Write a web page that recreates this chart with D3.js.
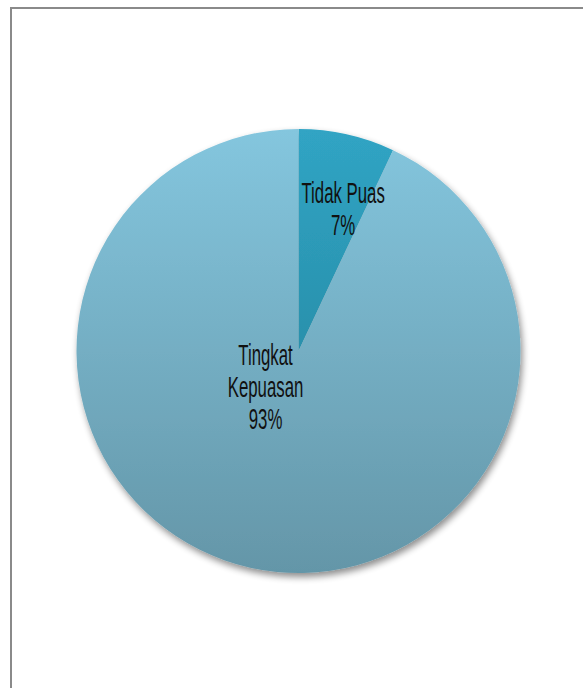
<!DOCTYPE html>
<html>
<head>
<meta charset="utf-8">
<script src="https://cdn.jsdelivr.net/npm/d3@7"></script>
<style>
  html, body { margin: 0; padding: 0; background: #fff; }
  svg { display: block; }
</style>
</head>
<body>
<svg id="chart" width="583" height="688"></svg>
<script>
// Survey result: satisfaction share
const categories = ["Tidak Puas", "Tingkat Kepuasan"];
const values = [7, 93];
const labelLines = [["Tidak Puas"], ["Tingkat", "Kepuasan"]];

const cx = 298.5, cy = 351, R = 222;

// slice colours (top -> bottom of the pie)
const sliceTop = ["#30a4c4", "#84c6de"];
const sliceBottom = ["#237d94", "#6496a8"];

// label placement: fraction of radius along the slice's mid-angle, plus a nudge
const labelRadius = [0.66, 0.2];
const labelNudge = [[12.7, -0.3], [-23.3, -8.3]];
const lineHeight = 32;

const svg = d3.select("#chart");
const defs = svg.append("defs");

// outer frame
svg.append("rect")
  .attr("x", 11).attr("y", 8)
  .attr("width", 600).attr("height", 720)
  .attr("fill", "none")
  .attr("stroke", "#8a8a8a")
  .attr("stroke-width", 2);

// soft shadow under the pie
const shadow = defs.append("filter").attr("id", "pieShadow")
  .attr("x", "-10%").attr("y", "-10%").attr("width", "125%").attr("height", "125%");
shadow.append("feGaussianBlur").attr("in", "SourceAlpha").attr("stdDeviation", 3.5).attr("result", "blur");
shadow.append("feOffset").attr("in", "blur").attr("dx", 2).attr("dy", 4).attr("result", "off");
shadow.append("feComponentTransfer").attr("in", "off").attr("result", "soft")
  .append("feFuncA").attr("type", "linear").attr("slope", 0.45);
const merge = shadow.append("feMerge");
merge.append("feMergeNode").attr("in", "soft");
merge.append("feMergeNode").attr("in", "SourceGraphic");

// vertical gradients spanning the whole pie (in the pie group's own frame)
categories.forEach((c, i) => {
  const g = defs.append("linearGradient")
    .attr("id", "grad" + i)
    .attr("gradientUnits", "userSpaceOnUse")
    .attr("x1", 0).attr("y1", -R)
    .attr("x2", 0).attr("y2", R);
  g.append("stop").attr("offset", "0%").attr("stop-color", sliceTop[i]);
  g.append("stop").attr("offset", "100%").attr("stop-color", sliceBottom[i]);
});

const pie = d3.pie().sort(null).value(d => d);
const arcs = pie(values);
const arc = d3.arc().innerRadius(0).outerRadius(R);

const gPie = svg.append("g")
  .attr("transform", `translate(${cx},${cy})`)
  .attr("filter", "url(#pieShadow)");

gPie.selectAll("path")
  .data(arcs)
  .join("path")
  .attr("d", arc)
  .attr("fill", (d, i) => `url(#grad${i})`);

// data labels
const fmt = d3.format(".0%");
const total = d3.sum(values);
const gLab = svg.append("g").attr("transform", `translate(${cx},${cy})`);

arcs.forEach((d, i) => {
  const la = d3.arc().innerRadius(R * labelRadius[i]).outerRadius(R * labelRadius[i]);
  const [px, py] = la.centroid(d);
  const x = px + labelNudge[i][0];
  const y = py + labelNudge[i][1];
  const lines = labelLines[i].concat([fmt(values[i] / total)]);
  const n = lines.length;
  lines.forEach((t, k) => {
    const ly = y + (k - (n - 1) / 2) * lineHeight + 11;
    gLab.append("text")
      .attr("transform", `translate(${x},${ly}) scale(0.56,1)`)
      .attr("text-anchor", "middle")
      .attr("font-family", "'Liberation Sans', Arial, sans-serif")
      .attr("font-size", 30)
      .attr("fill", "#111")
      .text(t);
  });
});
</script>
</body>
</html>
